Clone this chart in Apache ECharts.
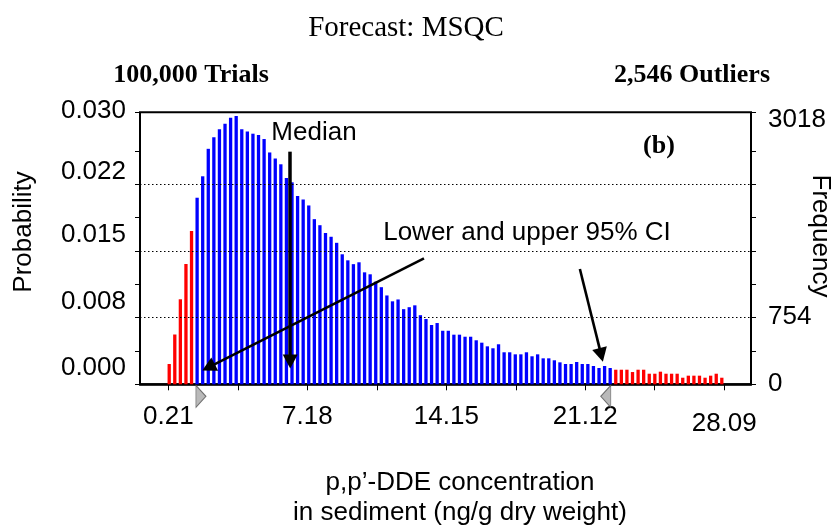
<!DOCTYPE html>
<html>
<head>
<meta charset="utf-8">
<title>Forecast: MSQC</title>
<script src="https://cdn.jsdelivr.net/npm/echarts@6.0.0/dist/echarts.min.js"></script>
<style>
html, body { margin: 0; padding: 0; background: #fff; }
#main { width: 838px; height: 529px; }
</style>
</head>
<body>
<div id="main"></div>
<script>
// histogram layout (bin centres), probabilities
var binStart = 0.25, binWidth = 0.28;
var lowTail = [0.00228, 0.00560, 0.00956, 0.01353, 0.01724];
var body = [
  0.02098, 0.02339, 0.02648, 0.02778, 0.02868, 0.02930, 0.02998, 0.03018, 0.02868, 0.02843,
  0.02818, 0.02803, 0.02758, 0.02607, 0.02539, 0.02474, 0.02320, 0.02271, 0.02117, 0.02078,
  0.02011, 0.01857, 0.01789, 0.01701, 0.01659, 0.01591, 0.01462, 0.01394, 0.01351, 0.01372,
  0.01259, 0.01237, 0.01154, 0.01092, 0.00999, 0.00933, 0.00954, 0.00845, 0.00867, 0.00888,
  0.00777, 0.00734, 0.00667, 0.00689, 0.00602, 0.00602, 0.00558, 0.00558, 0.00535, 0.00535,
  0.00495, 0.00468, 0.00427, 0.00405, 0.00450, 0.00360, 0.00360, 0.00337, 0.00337, 0.00360,
  0.00315, 0.00337, 0.00292, 0.00292, 0.00270, 0.00247, 0.00228, 0.00228, 0.00251, 0.00228,
  0.00228, 0.00206, 0.00183, 0.00206, 0.00183
];
var highTail = [
  0.00164, 0.00164, 0.00164, 0.00138, 0.00164, 0.00164, 0.00119, 0.00119, 0.00142, 0.00119,
  0.00119, 0.00119, 0.00074, 0.00097, 0.00097, 0.00097, 0.00074, 0.00097, 0.00119, 0.00074
];

var xLabelVals = [0.21, 7.18, 14.15, 21.12, 28.09];
var xTickVals = [0.21, 3.695, 7.18, 10.665, 14.15, 17.635, 21.12, 24.605, 28.09];
var yLabelVals = [0, 0.0075, 0.015, 0.0225, 0.030];
var yLabelText = ['0.000', '0.008', '0.015', '0.022', '0.030'];
var yTickVals = [0, 0.00375, 0.0075, 0.01125, 0.015, 0.01875, 0.0225, 0.02625];
var gridVals = [0.0075, 0.015, 0.0225];
var freqLabelVals = [0, 754, 3018];
var trials = 100000;

var ciLow = 1.59, ciHigh = 22.40;
var medianArrow = [[6.32, 0.02616], [6.32, 0.00256]];
var lowArrow = [[13.03, 0.01417], [2.22, 0.00191]];
var highArrow = [[20.85, 0.01297], [21.92, 0.00331]];

var xMin = -1.215, xMax = 29.434, yMax = 0.030586;

function pairs(vals, first) {
  return vals.map(function (p, i) { return [binStart + (first + i) * binWidth, p]; });
}
function near(a, b) { return Math.abs(a - b) < 1e-7; }

var sans = 'Liberation Sans';

function arrow(a, w) {
  return [
    { coord: a[0], symbol: 'none', lineStyle: { color: '#000', width: w, type: 'solid' } },
    { coord: a[1], symbol: 'triangle', symbolSize: [15, 14] }
  ];
}

var myChart = echarts.init(document.getElementById('main'), null, { renderer: 'canvas' });

myChart.setOption({
  animation: false,
  grid: {
    left: 140, right: 87, top: 112.3, bottom: 144.7,
    show: true, borderColor: '#000', borderWidth: 2
  },
  xAxis: {
    type: 'value', min: xMin, max: xMax,
    axisLine: { onZero: false, lineStyle: { color: '#000', width: 2.5 } },
    axisTick: { customValues: xTickVals, length: 6, lineStyle: { color: '#000', width: 1 } },
    axisLabel: {
      customValues: xLabelVals, margin: 20, color: '#000',
      fontFamily: sans, fontSize: 26,
      formatter: function (v) {
        return near(v, 28.09) ? '{last|28.09}' : v.toFixed(2);
      },
      rich: { last: { fontFamily: sans, fontSize: 26, color: '#000', padding: [7, 0, 0, 0] } }
    },
    splitLine: { show: false }
  },
  yAxis: [
    {
      type: 'value', min: 0, max: yMax, position: 'left',
      axisLine: { show: false, onZero: false },
      axisTick: { show: true, customValues: yTickVals.concat([yMax]), length: 5, lineStyle: { color: '#000' } },
      axisLabel: {
        customValues: yLabelVals, margin: 14, color: '#000',
        formatter: function (v) {
          for (var i = 0; i < yLabelVals.length; i++) {
            if (near(v, yLabelVals[i])) {
              var cls = i === 4 ? 'top' : (i === 3 ? 'mid' : 'lo');
              return '{' + cls + '|' + yLabelText[i] + '}';
            }
          }
          return '';
        },
        rich: {
          lo: { fontFamily: sans, fontSize: 26, color: '#000', padding: [0, 0, 32, 0] },
          mid: { fontFamily: sans, fontSize: 26, color: '#000', padding: [0, 0, 25, 0] },
          top: { fontFamily: sans, fontSize: 26, color: '#000', padding: [0, 0, 13, 0] }
        }
      },
      splitLine: { show: false }
    },
    {
      type: 'value', min: 0, max: yMax * trials, position: 'right',
      axisLine: { show: false, onZero: false },
      axisTick: {
        show: true, length: 5, lineStyle: { color: '#000' },
        customValues: yTickVals.map(function (v) { return v * trials; }).concat([yMax * trials])
      },
      axisLabel: {
        customValues: freqLabelVals, margin: 17, color: '#000',
        formatter: function (v) {
          return near(v, 3018) ? '{top|3018}' : '{n|' + v + '}';
        },
        rich: {
          n: { fontFamily: sans, fontSize: 26, color: '#000' },
          top: { fontFamily: sans, fontSize: 26, color: '#000', padding: [8, 0, 0, 0] }
        }
      },
      splitLine: { show: false }
    }
  ],
  series: [
    {
      type: 'bar', name: 'low', data: pairs(lowTail, 0),
      barWidth: 3.3, barGap: '-100%', itemStyle: { color: '#ff0000' }
    },
    {
      type: 'bar', name: 'body', data: pairs(body, lowTail.length),
      barWidth: 3.3, barGap: '-100%', itemStyle: { color: '#0000ff' },
      markLine: {
        silent: true, symbol: ['none', 'none'], precision: 6,
        label: { show: false },
        lineStyle: { color: '#000', width: 1, type: [1.5, 2.5] },
        data: gridVals.map(function (v) { return { yAxis: v }; }).concat([
          arrow(medianArrow, 3.5),
          arrow(lowArrow, 2.6),
          arrow(highArrow, 2.6)
        ])
      }
    },
    {
      type: 'bar', name: 'high', data: pairs(highTail, lowTail.length + body.length),
      barWidth: 3.3, barGap: '-100%', itemStyle: { color: '#ff0000' }
    },
    {
      type: 'scatter', clip: false, silent: true, z: 5,
      itemStyle: { color: '#a8a8a8', borderColor: '#555', borderWidth: 1 },
      data: [
        { value: [ciLow, 0], symbol: 'path://M0,0L10,11L0,22Z', symbolSize: [10, 22], symbolOffset: [5, 12] },
        { value: [ciHigh, 0], symbol: 'path://M10,0L0,11L10,22Z', symbolSize: [10, 22], symbolOffset: [-5, 12] }
      ]
    }
  ],
  graphic: [
    { type: 'text', x: 406, y: 28, style: { text: 'Forecast: MSQC', font: '29px "Liberation Serif"', fill: '#000', align: 'center', verticalAlign: 'middle' } },
    { type: 'text', x: 191, y: 75, style: { text: '100,000 Trials', font: 'bold 26px "Liberation Serif"', fill: '#000', align: 'center', verticalAlign: 'middle' } },
    { type: 'text', x: 692, y: 75, style: { text: '2,546 Outliers', font: 'bold 26px "Liberation Serif"', fill: '#000', align: 'center', verticalAlign: 'middle' } },
    { type: 'text', x: 659, y: 146, style: { text: '(b)', font: 'bold 26px "Liberation Serif"', fill: '#000', align: 'center', verticalAlign: 'middle' } },
    { type: 'text', x: 314, y: 133, style: { text: 'Median', font: '26px "Liberation Sans"', fill: '#000', align: 'center', verticalAlign: 'middle' } },
    { type: 'text', x: 527, y: 233, style: { text: 'Lower and upper 95% CI', font: '26px "Liberation Sans"', fill: '#000', align: 'center', verticalAlign: 'middle' } },
    { type: 'text', x: 24, y: 232, rotation: Math.PI / 2, style: { text: 'Probability', font: '26px "Liberation Sans"', fill: '#000', align: 'center', verticalAlign: 'middle' } },
    { type: 'text', x: 820, y: 236, rotation: -Math.PI / 2, style: { text: 'Frequency', font: '26px "Liberation Sans"', fill: '#000', align: 'center', verticalAlign: 'middle' } },
    { type: 'text', x: 460, y: 483, style: { text: 'p,p\u2019-DDE concentration', font: '26px "Liberation Sans"', fill: '#000', align: 'center', verticalAlign: 'middle' } },
    { type: 'text', x: 460, y: 513, style: { text: 'in sediment (ng/g dry weight)', font: '26px "Liberation Sans"', fill: '#000', align: 'center', verticalAlign: 'middle' } }
  ]
});
</script>
</body>
</html>
